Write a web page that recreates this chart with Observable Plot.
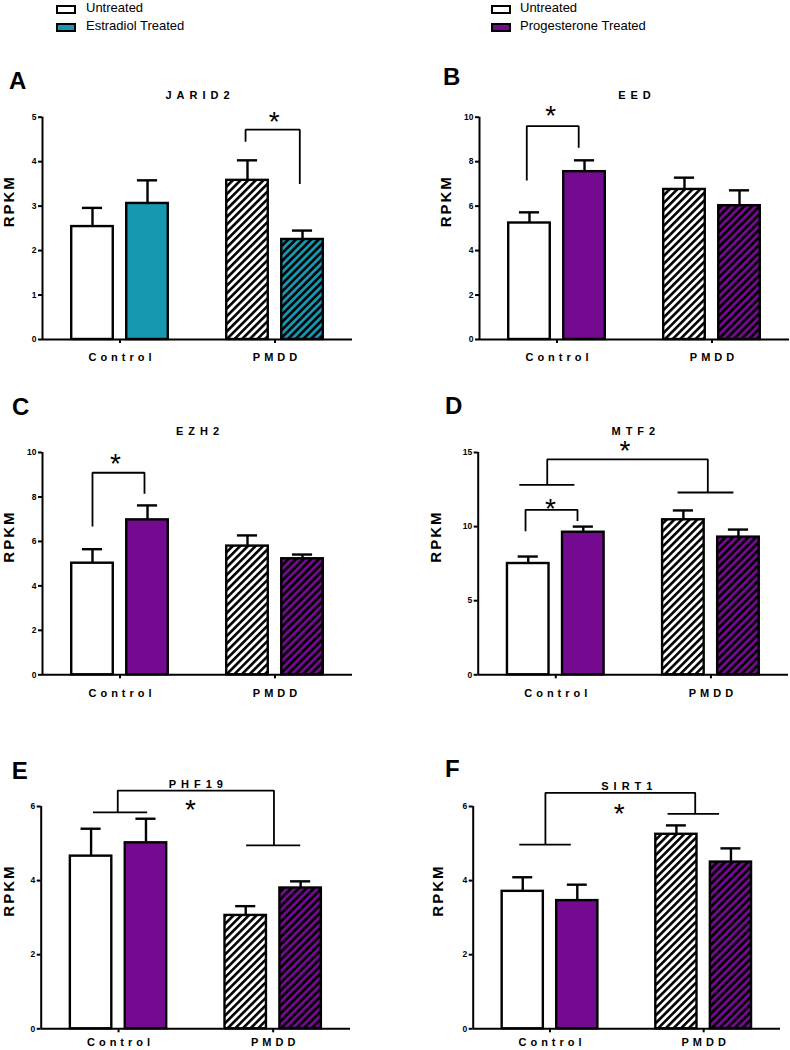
<!DOCTYPE html>
<html>
<head>
<meta charset="utf-8">
<script src="https://cdn.jsdelivr.net/npm/d3@7"></script>
<script src="https://cdn.jsdelivr.net/npm/@observablehq/plot@0.6"></script>
<style>
  html, body { margin: 0; padding: 0; background: #fff; }
  #root { position: relative; width: 790px; height: 1050px; overflow: hidden; background: #fff;
          font-family: "Liberation Sans", Arial, sans-serif; color: #000; }
  .lg-swatch { position: absolute; width: 20px; height: 9px; border: 2px solid #000; box-sizing: border-box; }
  .lg-text { position: absolute; font-size: 13px; line-height: 16px; white-space: nowrap; }
  .letter { position: absolute; font-size: 24px; line-height: 24px; font-weight: bold; }
</style>
</head>
<body>
<div id="root"></div>
<script>
// ---------------- data ----------------
const groups = ["Control", "PMDD"];
const treatments = ["Untreated", "Treated"];
const genes = ["JARID2", "EED", "EZH2", "MTF2", "PHF19", "SIRT1"];
const panelLetters = ["A", "B", "C", "D", "E", "F"];
const legendLabelsLeft = ["Untreated", "Estradiol Treated"];
const legendLabelsRight = ["Untreated", "Progesterone Treated"];
const hormoneColors = ["#1698b0", "#730a90"];

// order: Control-Untreated, Control-Treated, PMDD-Untreated, PMDD-Treated
const jarid2Mean = [2.54, 3.06, 3.58, 2.25];
const jarid2Sem  = [0.42, 0.52, 0.45, 0.20];
const eedMean    = [5.24, 7.55, 6.75, 6.02];
const eedSem     = [0.48, 0.51, 0.53, 0.69];
const ezh2Mean   = [5.02, 6.97, 5.79, 5.22];
const ezh2Sem    = [0.63, 0.65, 0.48, 0.19];
const mtf2Mean   = [7.51, 9.62, 10.46, 9.29];
const mtf2Sem    = [0.47, 0.38, 0.63, 0.51];
const phf19Mean  = [4.66, 5.02, 3.06, 3.80];
const phf19Sem   = [0.74, 0.65, 0.25, 0.18];
const sirt1Mean  = [3.71, 3.46, 5.25, 4.50];
const sirt1Sem   = [0.38, 0.43, 0.24, 0.37];

const jarid2Ticks = [0, 1, 2, 3, 4, 5];
const eedTicks    = [0, 2, 4, 6, 8, 10];
const ezh2Ticks   = [0, 2, 4, 6, 8, 10];
const mtf2Ticks   = [0, 5, 10, 15];
const phf19Ticks  = [0, 2, 4, 6];
const sirt1Ticks  = [0, 2, 4, 6];

// significance annotations (x in group units: Control = 1, PMDD = 3; y in RPKM)
const jarid2Pairs = [{xl: 2.62, xr: 3.32, top: 4.72, yl: 4.45, yr: 3.5}];
const eedPairs    = [{xl: 0.61, xr: 1.28, top: 9.6, yl: 7.15, yr: 8.63}];
const ezh2Pairs   = [{xl: 0.645, xr: 1.316, top: 9.09, yl: 6.67, yr: 8.14}];
const mtf2Pairs   = [{xl: 0.61, xr: 1.28, top: 11.13, yl: 9.69, yr: 10.37}];
const mtf2Groups  = [{xl: 0.89, xr: 2.96, top: 14.53, yl: 12.82, yr: 12.3, cl: [0.53, 1.24], cr: [2.57, 3.29]}];
const phf19Groups = [{xl: 0.99, xr: 3.01, top: 6.43, yl: 5.84, yr: 4.95, cl: [0.67, 1.37], cr: [2.65, 3.35]}];
const sirt1Groups = [{xl: 0.94, xr: 2.89, top: 6.37, yl: 4.97, yr: 5.80, cl: [0.60, 1.27], cr: [2.53, 3.20]}];

const jarid2Stars = [{x: 2.99, y: 5.04}];
const eedStars    = [{x: 0.92, y: 10.36}];
const ezh2Stars   = [{x: 0.94, y: 9.79}];
const mtf2Stars   = [{x: 0.93, y: 11.65}, {x: 1.89, y: 15.54}];
const phf19Stars  = [{x: 1.93, y: 6.07}];
const sirt1Stars  = [{x: 1.90, y: 5.98}];

// ---------------- layout (pixels) ----------------
const layouts = [
  {left: 0,   top: 60,  width: 395, axisX: 42,    axisR: 352, yTop: 116.7, y0: 339,    titleDy: -25.7, letterX: 9,   letterY: 80.5, rpkmDx: -33,   catPad: 10},
  {left: 400, top: 60,  width: 390, axisX: 479,   axisR: 789, yTop: 116.7, y0: 339,    titleDy: -25.7, letterX: 443, letterY: 77,   rpkmDx: -33,   catPad: 10},
  {left: 0,   top: 395, width: 395, axisX: 42,    axisR: 352, yTop: 452,   y0: 674.3,  titleDy: -25.3, letterX: 12,  letterY: 407,  rpkmDx: -33,   catPad: 10},
  {left: 400, top: 395, width: 390, axisX: 477.7, axisR: 788, yTop: 452,   y0: 674.3,  titleDy: -25.3, letterX: 445, letterY: 406,  rpkmDx: -42,   catPad: 10},
  {left: 0,   top: 750, width: 395, axisX: 40.7,  axisR: 350, yTop: 806,   y0: 1028.3, titleDy: -26,   letterX: 11.7,letterY: 770.5,rpkmDx: -32.5, catPad: 5.5},
  {left: 400, top: 750, width: 390, axisX: 472.7, axisR: 780, yTop: 806,   y0: 1028.3, titleDy: -24.3, letterX: 445, letterY: 769,  rpkmDx: -35,   catPad: 5.5}
];

const panels = [
  {mean: jarid2Mean, sem: jarid2Sem, ticks: jarid2Ticks, pairs: jarid2Pairs, groupBr: [],          stars: jarid2Stars, hormone: 0},
  {mean: eedMean,    sem: eedSem,    ticks: eedTicks,    pairs: eedPairs,    groupBr: [],          stars: eedStars,    hormone: 1},
  {mean: ezh2Mean,   sem: ezh2Sem,   ticks: ezh2Ticks,   pairs: ezh2Pairs,   groupBr: [],          stars: ezh2Stars,   hormone: 1},
  {mean: mtf2Mean,   sem: mtf2Sem,   ticks: mtf2Ticks,   pairs: mtf2Pairs,   groupBr: mtf2Groups,  stars: mtf2Stars,   hormone: 1},
  {mean: phf19Mean,  sem: phf19Sem,  ticks: phf19Ticks,  pairs: [],          groupBr: phf19Groups, stars: phf19Stars,  hormone: 1},
  {mean: sirt1Mean,  sem: sirt1Sem,  ticks: sirt1Ticks,  pairs: [],          groupBr: sirt1Groups, stars: sirt1Stars,  hormone: 1}
];

const root = document.getElementById("root");

// hatch patterns
const hatchIds = ["hatch-white", "hatch-teal", "hatch-purple"];
const hatchFills = ["#ffffff", hormoneColors[0], hormoneColors[1]];
root.insertAdjacentHTML("beforeend",
  `<svg width="0" height="0" style="position:absolute"><defs>` +
  hatchIds.map((id, i) =>
    `<pattern id="${id}" patternUnits="userSpaceOnUse" width="5.4" height="5.4" patternTransform="rotate(45)">` +
    `<rect width="5.4" height="5.4" fill="${hatchFills[i]}"/><rect width="2.6" height="5.4" fill="#000"/></pattern>`
  ).join("") + `</defs></svg>`);

// legends
function addLegend(swX, txtX, labels, color) {
  const fills = ["#ffffff", color];
  const baselines = [12.5, 30.5];
  labels.forEach((lab, i) => {
    const sw = document.createElement("div");
    sw.className = "lg-swatch";
    sw.style.left = swX + "px";
    sw.style.top = (baselines[i] - 8) + "px";
    sw.style.background = fills[i];
    root.appendChild(sw);
    const t = document.createElement("div");
    t.className = "lg-text";
    t.style.left = txtX + "px";
    t.style.top = (baselines[i] - 12.5) + "px";
    t.textContent = lab;
    root.appendChild(t);
  });
}
addLegend(56, 86, legendLabelsLeft, hormoneColors[0]);
addLegend(491, 520, legendLabelsRight, hormoneColors[1]);

// panels
panels.forEach((P, k) => {
  const L = layouts[k];
  const gene = genes[k];
  const yMax = P.ticks[P.ticks.length - 1];
  const color = hormoneColors[P.hormone];
  const hatchColor = `url(#${hatchIds[P.hormone + 1]})`;

  const bars = P.mean.map((m, i) => {
    const g = i >> 1, t = i & 1;
    const cx = 1 + 2 * g + (t ? 0.355 : -0.355);
    const fill = g === 0 ? (t ? color : "#ffffff") : (t ? hatchColor : "url(#hatch-white)");
    return {group: groups[g], treatment: treatments[t], mean: m, sem: P.sem[i], cx, x1: cx - 0.268, x2: cx + 0.268, fill};
  });

  const linePts = [];
  P.pairs.forEach((b, j) => {
    linePts.push({id: "p" + j, x: b.xl, y: b.yl}, {id: "p" + j, x: b.xl, y: b.top},
                 {id: "p" + j, x: b.xr, y: b.top}, {id: "p" + j, x: b.xr, y: b.yr});
  });
  const crossbars = [];
  P.groupBr.forEach((b, j) => {
    linePts.push({id: "g" + j, x: b.xl, y: b.yl}, {id: "g" + j, x: b.xl, y: b.top},
                 {id: "g" + j, x: b.xr, y: b.top}, {id: "g" + j, x: b.xr, y: b.yr});
    crossbars.push({x1: b.cl[0], x2: b.cl[1], y: b.yl}, {x1: b.cr[0], x2: b.cr[1], y: b.yr});
  });

  const height = L.y0 + 32 - L.top;
  const svg = Plot.plot({
    width: L.width,
    height,
    marginLeft: L.axisX - L.left,
    marginRight: L.left + L.width - L.axisR,
    marginTop: L.yTop - L.top,
    marginBottom: 32,
    x: {domain: [0, 4]},
    y: {domain: [0, yMax]},
    color: {type: "identity"},
    style: {background: "none", overflow: "visible", fontFamily: "'Liberation Sans', Arial, sans-serif", maxWidth: "none"},
    marks: [
      Plot.ruleX(bars, {x: "cx", y1: "mean", y2: d => d.mean + d.sem, stroke: "#000", strokeWidth: 2.4}),
      Plot.ruleY(bars, {y: d => d.mean + d.sem, x1: d => d.cx - 0.13, x2: d => d.cx + 0.13, stroke: "#000", strokeWidth: 2.4}),
      Plot.rect(bars, {x1: "x1", x2: "x2", y1: 0, y2: "mean", fill: "fill", stroke: "#000", strokeWidth: 2.4}),
      Plot.ruleY([0], {stroke: "#000", strokeWidth: 2}),
      Plot.ruleX([0], {y1: 0, y2: yMax, stroke: "#000", strokeWidth: 2}),
      Plot.axisY(P.ticks, {tickSize: 4, tickPadding: 2, label: null, tickFormat: d => String(d)}),
      Plot.axisX([1, 3], {tickSize: 4, tickPadding: L.catPad, label: null, tickFormat: d => groups[(d - 1) / 2]}),
      Plot.line(linePts, {x: "x", y: "y", z: "id", stroke: "#000", strokeWidth: 1.8, strokeLinejoin: "miter", strokeLinecap: "butt"}),
      Plot.link(crossbars, {x1: "x1", x2: "x2", y1: "y", y2: "y", stroke: "#000", strokeWidth: 1.8}),
      Plot.text(P.stars, {x: "x", y: "y", text: () => "*", fontSize: 28, dy: 6.5}),
      Plot.text([gene], {text: d => d, frameAnchor: "top", dy: L.titleDy, fontSize: 11, fontWeight: "bold"}),
      Plot.text(["RPKM"], {text: d => d, frameAnchor: "left", rotate: -90, dx: L.rpkmDx, fontSize: 15, fontWeight: "bold"})
    ]
  });

  const s = d3.select(svg);
  s.selectAll('g[aria-label="y-axis tick label"]').attr("font-size", 8.5).attr("font-weight", "bold");
  s.selectAll('g[aria-label="x-axis tick label"]').attr("font-size", 11).attr("font-weight", "bold").attr("letter-spacing", 4);
  s.selectAll('g[aria-label="x-axis tick label"] text').attr("dx", 2);
  s.selectAll('g[aria-label="y-axis tick"], g[aria-label="x-axis tick"]').attr("stroke-width", 2);
  s.selectAll("text").filter(function () { return this.textContent === gene; }).attr("letter-spacing", 5).attr("dx", 2.5);
  s.selectAll("text").filter(function () { return this.textContent === "RPKM"; }).attr("letter-spacing", 2).attr("dx", 1);

  svg.style.position = "absolute";
  svg.style.left = L.left + "px";
  svg.style.top = L.top + "px";
  root.appendChild(svg);

  const lt = document.createElement("div");
  lt.className = "letter";
  lt.textContent = panelLetters[k];
  lt.style.left = L.letterX + "px";
  lt.style.top = (L.letterY - 11.7) + "px";
  root.appendChild(lt);
});
</script>
</body>
</html>
